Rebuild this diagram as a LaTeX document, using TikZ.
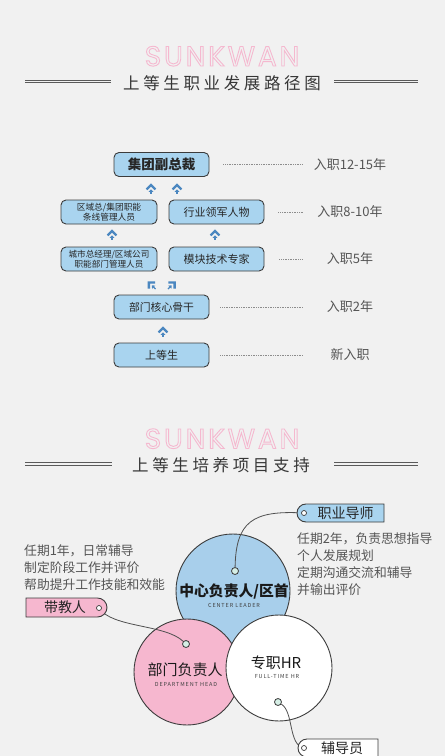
\documentclass[tikz,border=0pt]{standalone}
\usepackage{fontspec}
\setmainfont{Noto Sans CJK SC}
\newfontfamily\cjk{Noto Sans CJK SC}
\newfontfamily\titlefont[LetterSpace=22]{Noto Sans CJK SC}
\newfontfamily\capsfont[LetterSpace=16]{Noto Sans CJK SC}
\newfontfamily\logofont[LetterSpace=10]{Poppins}
\usetikzlibrary{calc}
\definecolor{bg}{HTML}{F1F1F1}
\definecolor{boxblue}{HTML}{A9D4EF}
\definecolor{circblue}{HTML}{A8CFEB}
\definecolor{pinkc}{HTML}{F6B7CF}
\definecolor{bordc}{HTML}{3C3C3C}
\definecolor{iconblue}{HTML}{4B87C0}
\definecolor{txtgray}{HTML}{555555}
\definecolor{titlegray}{HTML}{363636}
\definecolor{logopink}{HTML}{F5B8CF}
\definecolor{mint}{HTML}{D6EFE6}
\definecolor{linegray}{HTML}{5A5A5A}
\newcommand\logotext{\special{pdf:literal direct 1 Tr 0.9 w}\logofont\fontsize{28}{28}\selectfont SUNKWAN\special{pdf:literal direct 0 Tr}}
\begin{document}
\begin{tikzpicture}[x=1pt,y=-1pt,
  fbox/.style={draw=bordc, fill=boxblue, rounded corners=5pt, line width=0.9pt,
    minimum width=95pt, minimum height=24pt, inner sep=0pt, text=black!85, align=center},
  dotline/.style={draw=black!45, line width=0.6pt, dash pattern=on 0.8pt off 0.9pt},
  yrlabel/.style={text=txtgray, font=\fontsize{13}{13}\selectfont},
  dbl/.style={draw=linegray, line width=0.9pt},
  ttl/.style={text=titlegray, font=\titlefont\fontsize{16.5}{16.5}\selectfont},
  ring/.style={circle, draw=bordc, line width=0.9pt, inner sep=0pt},
  dotc/.style={circle, draw=bordc, fill=mint, line width=0.8pt, minimum size=7pt, inner sep=0pt},
  holec/.style={circle, draw=bordc, fill=white, line width=0.7pt, minimum size=5pt, inner sep=0pt},
  conn/.style={draw=bordc!90, line width=0.8pt},
  tagshape/.style={draw=bordc, line width=0.9pt},
  tagtext/.style={font=\fontsize{14}{14}\selectfont, text=black!85},
  desc/.style={text=txtgray, font=\fontsize{12.8}{17}\selectfont, align=left, inner sep=0pt},
  logo/.style={text=logopink, inner sep=0pt, anchor=base, text height=20pt, text depth=0pt},
  upicon/.pic={
    \begin{scope}[scale=1.15]
    \fill[iconblue] (-4.5,0.5) -- (0,-4) -- (4.5,0.5) -- (3.1,1.9) -- (0,-1.2) -- (-3.1,1.9) -- cycle;
    \fill[iconblue] (-2,3.3) -- (0,1.1) -- (2,3.3) -- cycle;
    \draw[iconblue, line width=1.1pt] (0,3) -- (0,5.6);
    \end{scope}
  }
]
\useasboundingbox (0,0) rectangle (445,756);
\fill[bg] (0,0) rectangle (445,756);

% ---------- Title 1 ----------
\node[logo] (logoA) at (222,66) {\logotext};
\node[ttl] (title1) at (222,83) {上等生职业发展路径图};
\draw[dbl] (25,80) -- (111,80) (25,82.8) -- (111,82.8);
\draw[dbl] (334,80) -- (418,80) (334,82.8) -- (418,82.8);

% ---------- Career path ----------
\node[fbox, font=\bfseries\fontsize{13.5}{14}\selectfont] (b1) at (161.5,164.5) {集团副总裁};
\node[fbox, minimum width=96pt, font=\fontsize{8.7}{10}\selectfont] (b2a) at (109,212) {区域总/集团职能\\条线管理人员};
\node[fbox, font=\fontsize{11}{12}\selectfont] (b2b) at (216.5,212) {行业领军人物};
\node[fbox, minimum width=96pt, font=\fontsize{8.6}{10}\selectfont] (b3a) at (109,259) {城市总经理/区域公司\\职能部门管理人员};
\node[fbox, font=\fontsize{11}{12}\selectfont] (b3b) at (216.5,259) {模块技术专家};
\node[fbox, font=\fontsize{10.8}{12}\selectfont] (b4) at (161.5,307) {部门核心骨干};
\node[fbox, font=\fontsize{11}{12}\selectfont] (b5) at (161.5,355) {上等生};

\pic at (151,188) {upicon};
\pic at (177,188) {upicon};
\pic at (112,234) {upicon};
\pic at (215,234) {upicon};
\pic[rotate=45] at (151,284.5) {upicon};
\pic[rotate=-45] at (172.5,284.5) {upicon};
\pic at (163,331) {upicon};

\coordinate (lineend) at (303,0);
\node[yrlabel] (l1) at (350,164.5) {入职12-15年};
\node[yrlabel] (l2) at (350,212) {入职8-10年};
\node[yrlabel] (l3) at (350,259) {入职5年};
\node[yrlabel] (l4) at (350,307) {入职2年};
\node[yrlabel] (l5) at (350,355) {新入职};
\draw[dotline] ([xshift=14pt]b1.east) -- (b1.east -| lineend);
\draw[dotline] ([xshift=14pt]b2b.east) -- (b2b.east -| lineend);
\draw[dotline] ([xshift=15pt]b3b.east) -- (b3b.east -| lineend);
\draw[dotline] ([xshift=11pt]b4.east) -- (b4.east -| lineend);
\draw[dotline] ([xshift=11pt]b5.east) -- (b5.east -| lineend);

% ---------- Title 2 ----------
\node[logo] (logoB) at (222,448.5) {\logotext};
\node[ttl] (title2) at (221,465.5) {上等生培养项目支持};
\draw[dbl] (25,462.3) -- (112,462.3) (25,465.1) -- (112,465.1);
\draw[dbl] (334,462.3) -- (418,462.3) (334,465.1) -- (418,465.1);

% ---------- Circles ----------
\node[ring, fill=circblue, minimum size=114pt] (cblue) at (233,591) {};
\node[ring, fill=pinkc, minimum size=106pt] (cpink) at (187,672) {};
\node[ring, fill=white, minimum size=106pt] (cwhite) at (279,668) {};

\node[font=\bfseries\fontsize{14.8}{16}\selectfont, text=black!90] (tcl) at (234,591.5) {中心负责人/区首};
\node[font=\capsfont\fontsize{5.5}{6}\selectfont, text=black!75] (tcl2) at (234,605.5) {CENTER LEADER};
\node[font=\fontsize{15}{16}\selectfont, text=black!90] (tdh) at (185,670) {部门负责人};
\node[font=\capsfont\fontsize{5.5}{6}\selectfont, text=black!75] (tdh2) at (186,684) {DEPARTMENT HEAD};
\node[font=\fontsize{15}{16}\selectfont, text=black!90] (thr) at (276,663) {专职HR};
\node[font=\capsfont\fontsize{5.5}{6}\selectfont, text=black!75] (thr2) at (277,677) {FULL-TIME HR};

\node[dotc] (bdot) at (235,571) {};
\node[dotc] (pdot) at (186,644) {};
\node[dotc] (wdot) at (278,702) {};

\coordinate (mholec) at (304,513);
\coordinate (tholec) at (99,608);
\coordinate (fholec) at (304,748);

\draw[conn] (bdot) .. controls (236,522) and (252,510) .. (mholec);
\draw[conn] (tholec) .. controls (112,628) and (165,624) .. (pdot);
\draw[conn] (wdot) .. controls (294,712) and (288,745) .. (fholec);

% tags
\draw[tagshape, fill=boxblue] (384,504) -- (306,504) .. controls (301,504) and (297,508) .. (297,513)
   .. controls (297,518) and (301,522) .. (306,522) -- (384,522) -- cycle;
\node[tagtext] (tmentor) at (345.5,513) {职业导师};
\node[holec] (mhole) at (mholec) {};

\draw[tagshape, fill=pinkc] (26,598) -- (97.5,598) .. controls (102.7,598) and (107,602.3) .. (107,607.5)
   .. controls (107,612.7) and (102.7,617) .. (97.5,617) -- (26,617) -- cycle;
\node[tagtext] (tteach) at (65,607.5) {带教人};
\node[holec] (thole) at (tholec) {};

\draw[tagshape, fill=white] (378,739) -- (307,739) .. controls (302,739) and (298,743) .. (298,748)
   .. controls (298,753) and (302,757) .. (307,757) -- (378,757) -- cycle;
\node[tagtext] (tcoun) at (342,748) {辅导员};
\node[holec] (fhole) at (fholec) {};

% descriptions
\node[desc, anchor=north west] (dright) at (297,532) {任期2年，负责思想指导\\个人发展规划\\定期沟通交流和辅导\\并输出评价};
\node[desc, anchor=north west] (dleft) at (24,544) {任期1年，日常辅导\\制定阶段工作并评价\\帮助提升工作技能和效能};
\end{tikzpicture}
\end{document}
